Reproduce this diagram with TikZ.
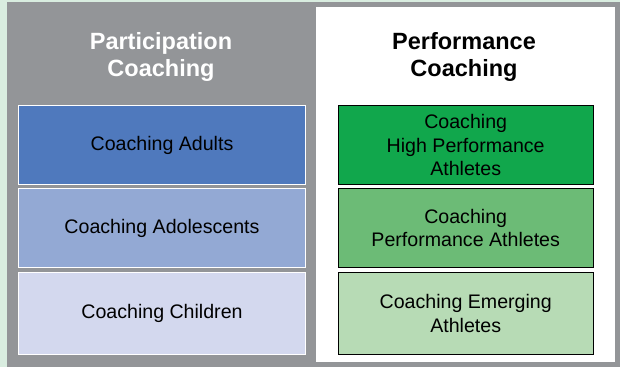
\documentclass[tikz,border=0pt]{standalone}
\usepackage{fontspec}
\setmainfont{Liberation Sans}
\usepackage{tikz}
\definecolor{bggreen}{RGB}{217,237,224}
\definecolor{panelgrey}{RGB}{147,149,152}
\definecolor{blueA}{RGB}{79,121,189}
\definecolor{blueB}{RGB}{147,169,212}
\definecolor{blueC}{RGB}{211,216,238}
\definecolor{greenA}{RGB}{17,167,76}
\definecolor{greenB}{RGB}{108,187,118}
\definecolor{greenC}{RGB}{183,219,181}
\tikzset{
  head/.style={align=center, font=\fontsize{23.5}{27}\selectfont\bfseries, inner sep=0pt},
  pbox/.style={draw=white, line width=1.3pt, minimum width=287, minimum height=79, inner sep=0pt,
    align=center, font=\fontsize{19.6}{23.7}\selectfont},
  fbox/.style={draw=black, line width=1.2pt, minimum width=255, minimum height=79, inner sep=0pt,
    align=center, font=\fontsize{19.6}{23.7}\selectfont}
}

\begin{document}
\begin{tikzpicture}[x=1pt, y=-1pt]
\useasboundingbox (0,0) rectangle (620,367);
\fill[bggreen] (0,0) rectangle (620,367);
\fill[panelgrey] (7,2) rectangle (620,367);
\fill[white] (316,7) rectangle (615,362);

\node[head, text=white] (pc) at (161,56.5) {Participation\\Coaching};
\node[head] (fc) at (464,56.5) {Performance\\Coaching};

\node[pbox, fill=blueA] (a1) at (162,145) {Coaching Adults};
\node[pbox, fill=blueB] (a2) at (162,228) {Coaching Adolescents};
\node[pbox, fill=blueC, minimum height=82.5] (a3) at (162,313.5) {Coaching Children};

\node[fbox, fill=greenA] (b1) at (465.7,145) {Coaching\\High Performance\\Athletes};
\node[fbox, fill=greenB] (b2) at (465.7,228) {Coaching\\Performance Athletes};
\node[fbox, fill=greenC, minimum height=82.5] (b3) at (465.7,313.5) {Coaching Emerging\\Athletes};
\end{tikzpicture}
\end{document}
